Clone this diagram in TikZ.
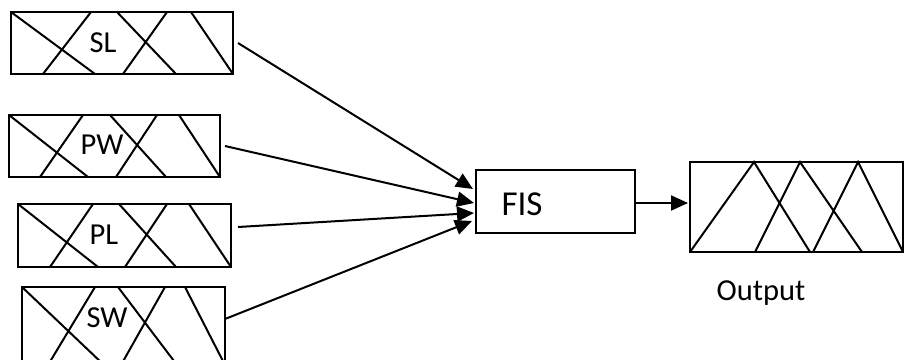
\documentclass[tikz,border=0pt]{standalone}
\usepackage{fontspec}
\setmainfont{Carlito}
\usetikzlibrary{arrows.meta}
\begin{document}
\begin{tikzpicture}[x=1pt,y=-1pt,
  hbox/.style={draw,line width=2.4pt,inner sep=0,outer sep=0,anchor=north west,rectangle},
  hatch/.style={line width=2pt},
  lbl/.style={font=\fontsize{30.5}{30.5}\selectfont,inner sep=0,anchor=base},
  arr/.style={line width=2pt,-{Triangle[length=17pt,width=15pt]}}]
\useasboundingbox (0,0) rectangle (905,359);
\clip (0,0) rectangle (905,359);
% SL
\node[hbox,minimum width=222pt,minimum height=62pt] (sl) at (11,12) {};
\draw[hatch] (11,12)--(95,74) (43,74)--(91,12) (117,12)--(176,74) (123,74)--(167,12) (191,12)--(233,74);
\node[lbl] (slt) at (103,52) {SL};
% PW
\node[hbox,minimum width=211pt,minimum height=62pt] (pw) at (9,115) {};
\draw[hatch] (9,115)--(88,177) (40,177)--(83,115) (110,115)--(166,177) (116,177)--(157,115) (179,115)--(220,177);
\node[lbl] (pwt) at (102,154) {PW};
% PL
\node[hbox,minimum width=213pt,minimum height=63pt] (pl) at (18,204) {};
\draw[hatch] (18,204)--(98,267) (50,267)--(93,204) (119,204)--(176,267) (125,267)--(167,204) (189,204)--(231,267);
\node[lbl] (plt) at (104,244) {PL};
% SW
\node[hbox,minimum width=203pt,minimum height=78pt] (sw) at (22,287) {};
\draw[hatch] (22,287)--(104,365) (95,287)--(48,365) (118,287)--(177,365) (165,287)--(121,365) (185,287)--(225,365);
\node[lbl] (swt) at (107,327) {SW};
% FIS
\node[hbox,minimum width=159pt,minimum height=63pt] (fis) at (476,170) {};
\node[lbl,font=\fontsize{35}{35}\selectfont] (fist) at (522,215) {FIS};
% Output
\node[hbox,minimum width=213pt,minimum height=90pt] (out) at (690,162) {};
\draw[hatch,line join=miter] (690,252)--(754,162)--(810,252) (755,252)--(800,162)--(862,252) (813,252)--(858,162)--(903,252);
\node[lbl] (outt) at (761,300) {Output};
% arrows
\draw[arr] ([shift={(5,0)}]sl.east) -- ([shift={(-3,-12.5)}]fis.west);
\draw[arr] ([shift={(5,0)}]pw.east) -- ([shift={(-2,1.5)}]fis.west);
\draw[arr] ([shift={(7,-8.5)}]pl.east) -- ([shift={(-2,11.5)}]fis.west);
\draw[arr] ([shift={(0,-7)}]sw.east) -- ([shift={(-4,19.5)}]fis.west);
\draw[arr] ([shift={(0,1.5)}]fis.east) -- ([shift={(-2,-4)}]out.west);
\end{tikzpicture}
\end{document}
